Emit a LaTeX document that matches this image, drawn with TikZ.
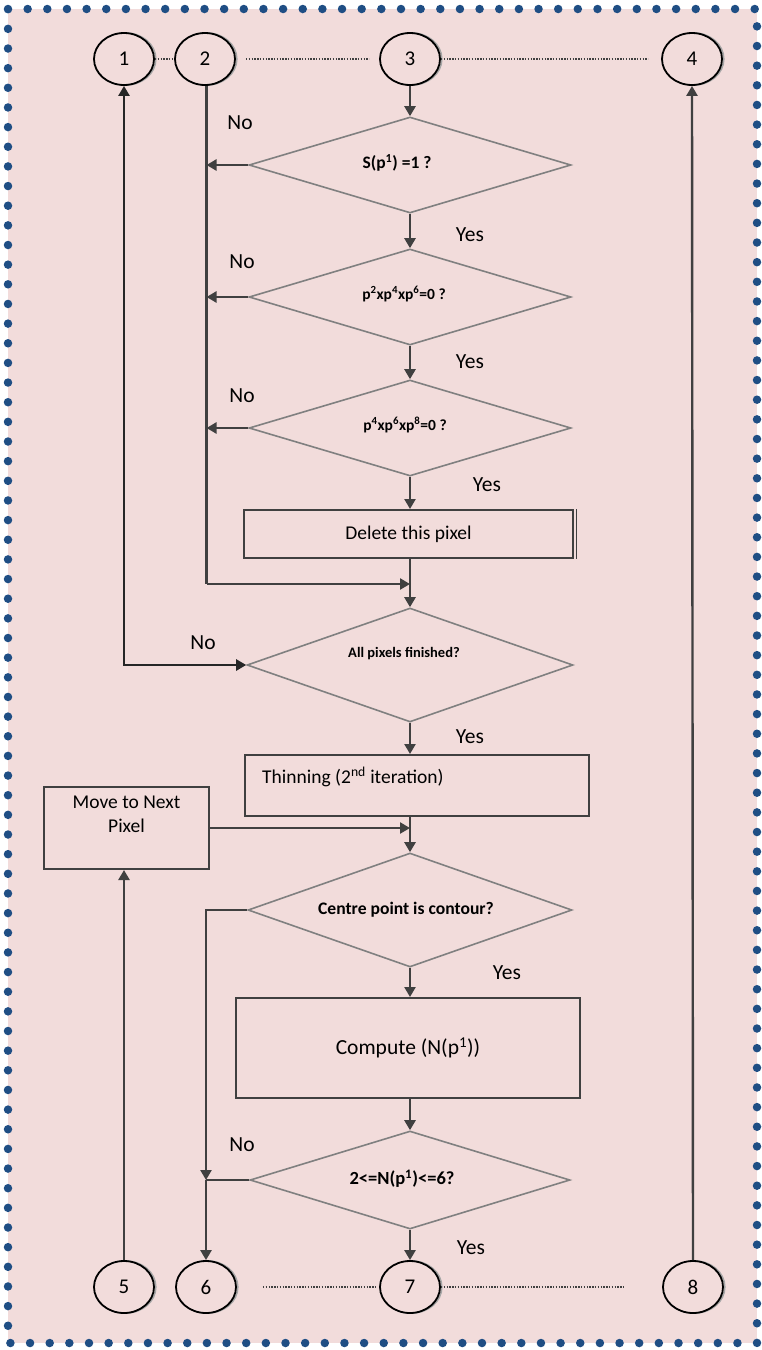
\documentclass[tikz,border=0pt]{standalone}
\usepackage{fontspec}
\setmainfont{Carlito}
\usetikzlibrary{shapes.geometric,arrows.meta,calc}
\definecolor{bgpink}{HTML}{F2DCDB}
\definecolor{dotblue}{HTML}{1F4E84}
\definecolor{flow}{HTML}{404040}
\definecolor{dgray}{HTML}{808080}
\begin{document}
\begin{tikzpicture}[x=1pt,y=-1pt,
  flowline/.style={draw=flow,line width=2.4pt},
  arr/.style={flowline,-{Triangle[width=11pt,length=10pt]}},
  decision/.style={diamond,draw=dgray,line width=1.6pt,inner sep=0pt,fill=bgpink},
  procbox/.style={rectangle,draw=flow,line width=2pt,inner sep=0pt,fill=bgpink},
  conn/.style={ellipse,draw=black,line width=1.8pt,minimum width=60pt,minimum height=52pt,inner sep=0pt,fill=bgpink,
    preaction={draw=gray!70,line width=1.6pt,transform canvas={xshift=1.8pt}},
    font=\fontsize{21}{24}\selectfont},
  dotline/.style={draw=flow,line width=1.6pt,dash pattern=on 1.5pt off 1.3pt},
  lbl/.style={font=\fontsize{21.5}{25}\selectfont,inner sep=0pt},
  qtext/.style={font=\bfseries,inner sep=0pt}]
\useasboundingbox (0,0) rectangle (761,1350);
% page background and dotted frame
\fill[white] (0,0) rectangle (761,1350);
\fill[bgpink] (8,9) rectangle (757,1343);
\draw[dotblue,line width=8.5pt,line cap=round,dash pattern=on 0pt off 19.65pt] (8,9) -- (757,9) -- (757,1343) -- (8,1343) -- cycle;

% connectors at the top and bottom
\node[conn] (c1) at (124,59) {1};
\node[conn] (c2) at (205,59) {2};
\node[conn] (c3) at (410,59) {3};
\node[conn] (c4) at (692,59) {4};
\node[conn] (c5) at (124,1287) {5};
\node[conn] (c6) at (206,1287) {6};
\node[conn] (c7) at (410,1287) {7};
\node[conn] (c8) at (693,1287) {8};

% decisions
\node[decision,minimum width=322pt,minimum height=96pt] (d1) at (410,165) {};
\node[decision,minimum width=322pt,minimum height=96pt] (d2) at (410,297) {};
\node[decision,minimum width=322pt,minimum height=96pt] (d3) at (410,428) {};
\node[decision,minimum width=326pt,minimum height=114pt] (d4) at (410,665) {};
\node[decision,minimum width=324pt,minimum height=114pt] (d5) at (410,910) {};
\node[decision,minimum width=320pt,minimum height=98pt] (d6) at (410,1180) {};

\node[qtext,font=\bfseries\fontsize{17.5}{20}\selectfont] (t1) at (397,163) {S(p\textsuperscript{1}) =1 ?};
\node[qtext,font=\bfseries\fontsize{15.5}{18}\selectfont] (t2) at (404,294) {p\textsuperscript{2}xp\textsuperscript{4}xp\textsuperscript{6}=0 ?};
\node[qtext,font=\bfseries\fontsize{15.5}{18}\selectfont] (t3) at (405,425) {p\textsuperscript{4}xp\textsuperscript{6}xp\textsuperscript{8}=0 ?};
\node[qtext,font=\bfseries\fontsize{14.5}{17}\selectfont] (t4) at (404,654) {All pixels finished?};
\node[qtext,font=\bfseries\fontsize{17.6}{20}\selectfont] (t5) at (406,910) {Centre point is contour?};
\node[qtext,font=\bfseries\fontsize{18.5}{21}\selectfont] (t6) at (402,1179) {2<=N(p\textsuperscript{1})<=6?};

% process boxes
\node[procbox,minimum width=329pt,minimum height=48pt,font=\fontsize{19.5}{22}\selectfont] (del) at (408.5,534) {Delete this pixel};
\draw[flow,line width=1.2pt] ($(del.north east)+(2.6pt,0)$) -- ($(del.south east)+(2.6pt,0)$);
\node[procbox,minimum width=344pt,minimum height=61pt] (thin) at (417,785.5) {};
\node[anchor=west,inner sep=0pt,font=\fontsize{19.5}{22}\selectfont] (thinT) at (262,777) {Thinning (2\textsuperscript{nd} iteration)};
\node[procbox,minimum width=165pt,minimum height=82pt,align=center,font=\fontsize{19.5}{23}\selectfont] (move) at (126.5,828) {Move to Next\\[1pt]Pixel\\[4pt]};
\node[procbox,minimum width=344pt,minimum height=100pt,font=\fontsize{21.5}{25}\selectfont] (comp) at (408,1048) {Compute (N(p\textsuperscript{1}))\\[-2pt]};

% main flow
\draw[arr] (c3) -- (d1.north);
\draw[arr] (d1.south) -- (d2.north);
\draw[arr] (d2.south) -- (d3.north);
\draw[arr] (d3.south) -- (del.north -| d3.south);
\draw[arr] (del.south -| d3.south) -- (d4.north);
\draw[arr] (d4.south) -- (thin.north -| d4.south);
\draw[arr] (thin.south -| d4.south) -- (d5.north);
\draw[arr] (d5.south) -- (comp.north -| d5.south);
\draw[arr] (comp.south -| d5.south) -- (d6.north);
\draw[arr] (d6.south) -- (c7.north);

% "No" branches of the first pass
\coordinate (j2) at ($(c2.south)+(1.5pt,0)$);
\coordinate (m2) at (j2 |- 584,584);
\draw[flowline] (j2) -- (m2);
\draw[arr] (m2) -- (m2 -| d4.north);
\draw[arr] (d1.west) -- (d1.west -| j2);
\draw[arr] (d2.west) -- (d2.west -| j2);
\draw[arr] (d3.west) -- (d3.west -| j2);
\draw[flowline,draw=black!85,{Triangle[width=11pt,length=10pt]}-{Triangle[width=11pt,length=10pt]}] (c1.south) |- (d4.west);

% second pass
\draw[arr] (move.east) -- (move.east -| d5.north);
\draw[arr] (c5.north) -- (move.south -| c5.north);
\coordinate (j6) at (d6.west -| c6.north);
\draw[arr] (d5.west) -| (j6);
\draw[flowline] (d6.west) -- (j6);
\draw[arr] (j6) -- (c6.north);
\draw[arr] (c8.north) -- (c4.south);

% dotted links between connectors
\draw[dotline] (c1.east) -- (c2.west);
\draw[dotline,shorten <=10pt,shorten >=10pt] (c2.east) -- (c3.west);
\draw[dotline,shorten >=13pt] (c3.east) -- (c4.west);
\draw[dotline,shorten <=26pt,shorten >=4pt] (c6.east) -- (c7.west);
\draw[dotline,shorten >=39pt] (c7.east) -- (c8.west);

% branch labels
\node[lbl] (n1) at (240,123) {No};
\node[lbl] (n2) at (242,262) {No};
\node[lbl] (n3) at (242,396) {No};
\node[lbl] (n4) at (203,643) {No};
\node[lbl] (n5) at (242,1145) {No};
\node[lbl] (y1) at (470,235) {Yes};
\node[lbl] (y2) at (470,362) {Yes};
\node[lbl] (y3) at (487,485) {Yes};
\node[lbl] (y4) at (470,737) {Yes};
\node[lbl] (y5) at (507,973) {Yes};
\node[lbl] (y6) at (471,1248) {Yes};
\end{tikzpicture}
\end{document}
